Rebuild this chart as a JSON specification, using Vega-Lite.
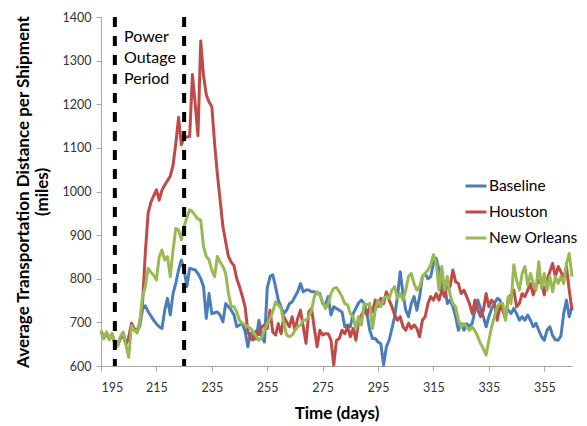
{
"$schema":"https://vega.github.io/schema/vega-lite/v6.json",
"width":471,"height":349,
"autosize":{"type":"none"},
"padding":{"left":101,"top":17,"right":15,"bottom":60},
"background":"white",
"config":{"view":{"stroke":null},"font":"Lato",
"axis":{"grid":false,"domainColor":"#a6a6a6","tickColor":"#a6a6a6","tickSize":5,"labelFontSize":12.5,"labelColor":"#333333","titleFontSize":17,"titleFontWeight":"bold","titleColor":"#000000","labelFont":"Lato","titleFont":"Lato"}},
"datasets":{"series":[
{"day":195,"series":"Baseline","value":678},{"day":196,"series":"Baseline","value":665},{"day":197,"series":"Baseline","value":672},{"day":198,"series":"Baseline","value":662},{"day":199,"series":"Baseline","value":670},{"day":200,"series":"Baseline","value":652},{"day":201,"series":"Baseline","value":648},{"day":202,"series":"Baseline","value":662},{"day":203,"series":"Baseline","value":672},{"day":204,"series":"Baseline","value":650},{"day":205,"series":"Baseline","value":662},{"day":206,"series":"Baseline","value":690},{"day":207,"series":"Baseline","value":682},{"day":208,"series":"Baseline","value":678},{"day":209,"series":"Baseline","value":692},{"day":210,"series":"Baseline","value":730},{"day":211,"series":"Baseline","value":738},{"day":212,"series":"Baseline","value":725},{"day":213,"series":"Baseline","value":715},{"day":214,"series":"Baseline","value":705},{"day":215,"series":"Baseline","value":697},{"day":216,"series":"Baseline","value":690},{"day":217,"series":"Baseline","value":686},{"day":218,"series":"Baseline","value":728},{"day":219,"series":"Baseline","value":755},{"day":220,"series":"Baseline","value":717},{"day":221,"series":"Baseline","value":766},{"day":222,"series":"Baseline","value":790},{"day":223,"series":"Baseline","value":820},{"day":224,"series":"Baseline","value":843},{"day":225,"series":"Baseline","value":820},{"day":226,"series":"Baseline","value":782},{"day":227,"series":"Baseline","value":824},{"day":228,"series":"Baseline","value":822},{"day":229,"series":"Baseline","value":820},{"day":230,"series":"Baseline","value":812},{"day":231,"series":"Baseline","value":800},{"day":232,"series":"Baseline","value":782},{"day":233,"series":"Baseline","value":709},{"day":234,"series":"Baseline","value":766},{"day":235,"series":"Baseline","value":720},{"day":236,"series":"Baseline","value":722},{"day":237,"series":"Baseline","value":724},{"day":238,"series":"Baseline","value":717},{"day":239,"series":"Baseline","value":701},{"day":240,"series":"Baseline","value":743},{"day":241,"series":"Baseline","value":736},{"day":242,"series":"Baseline","value":728},{"day":243,"series":"Baseline","value":717},{"day":244,"series":"Baseline","value":690},{"day":245,"series":"Baseline","value":694},{"day":246,"series":"Baseline","value":697},{"day":247,"series":"Baseline","value":680},{"day":248,"series":"Baseline","value":644},{"day":249,"series":"Baseline","value":675},{"day":250,"series":"Baseline","value":665},{"day":251,"series":"Baseline","value":662},{"day":252,"series":"Baseline","value":705},{"day":253,"series":"Baseline","value":667},{"day":254,"series":"Baseline","value":655},{"day":255,"series":"Baseline","value":778},{"day":256,"series":"Baseline","value":805},{"day":257,"series":"Baseline","value":809},{"day":258,"series":"Baseline","value":782},{"day":259,"series":"Baseline","value":751},{"day":260,"series":"Baseline","value":735},{"day":261,"series":"Baseline","value":720},{"day":262,"series":"Baseline","value":728},{"day":263,"series":"Baseline","value":743},{"day":264,"series":"Baseline","value":747},{"day":265,"series":"Baseline","value":759},{"day":266,"series":"Baseline","value":770},{"day":267,"series":"Baseline","value":789},{"day":268,"series":"Baseline","value":770},{"day":269,"series":"Baseline","value":774},{"day":270,"series":"Baseline","value":774},{"day":271,"series":"Baseline","value":770},{"day":272,"series":"Baseline","value":770},{"day":273,"series":"Baseline","value":766},{"day":274,"series":"Baseline","value":766},{"day":275,"series":"Baseline","value":743},{"day":276,"series":"Baseline","value":740},{"day":277,"series":"Baseline","value":759},{"day":278,"series":"Baseline","value":717},{"day":279,"series":"Baseline","value":736},{"day":280,"series":"Baseline","value":732},{"day":281,"series":"Baseline","value":728},{"day":282,"series":"Baseline","value":724},{"day":283,"series":"Baseline","value":690},{"day":284,"series":"Baseline","value":694},{"day":285,"series":"Baseline","value":690},{"day":286,"series":"Baseline","value":720},{"day":287,"series":"Baseline","value":732},{"day":288,"series":"Baseline","value":745},{"day":289,"series":"Baseline","value":751},{"day":290,"series":"Baseline","value":743},{"day":291,"series":"Baseline","value":720},{"day":292,"series":"Baseline","value":682},{"day":293,"series":"Baseline","value":663},{"day":294,"series":"Baseline","value":663},{"day":295,"series":"Baseline","value":655},{"day":296,"series":"Baseline","value":651},{"day":297,"series":"Baseline","value":602},{"day":298,"series":"Baseline","value":644},{"day":299,"series":"Baseline","value":659},{"day":300,"series":"Baseline","value":686},{"day":301,"series":"Baseline","value":713},{"day":302,"series":"Baseline","value":760},{"day":303,"series":"Baseline","value":816},{"day":304,"series":"Baseline","value":766},{"day":305,"series":"Baseline","value":728},{"day":306,"series":"Baseline","value":713},{"day":307,"series":"Baseline","value":743},{"day":308,"series":"Baseline","value":759},{"day":309,"series":"Baseline","value":728},{"day":310,"series":"Baseline","value":759},{"day":311,"series":"Baseline","value":805},{"day":312,"series":"Baseline","value":812},{"day":313,"series":"Baseline","value":800},{"day":314,"series":"Baseline","value":805},{"day":315,"series":"Baseline","value":835},{"day":316,"series":"Baseline","value":847},{"day":317,"series":"Baseline","value":820},{"day":318,"series":"Baseline","value":774},{"day":319,"series":"Baseline","value":789},{"day":320,"series":"Baseline","value":743},{"day":321,"series":"Baseline","value":751},{"day":322,"series":"Baseline","value":736},{"day":323,"series":"Baseline","value":713},{"day":324,"series":"Baseline","value":682},{"day":325,"series":"Baseline","value":697},{"day":326,"series":"Baseline","value":682},{"day":327,"series":"Baseline","value":697},{"day":328,"series":"Baseline","value":690},{"day":329,"series":"Baseline","value":698},{"day":330,"series":"Baseline","value":728},{"day":331,"series":"Baseline","value":751},{"day":332,"series":"Baseline","value":732},{"day":333,"series":"Baseline","value":713},{"day":334,"series":"Baseline","value":690},{"day":335,"series":"Baseline","value":713},{"day":336,"series":"Baseline","value":732},{"day":337,"series":"Baseline","value":743},{"day":338,"series":"Baseline","value":755},{"day":339,"series":"Baseline","value":751},{"day":340,"series":"Baseline","value":728},{"day":341,"series":"Baseline","value":720},{"day":342,"series":"Baseline","value":728},{"day":343,"series":"Baseline","value":720},{"day":344,"series":"Baseline","value":732},{"day":345,"series":"Baseline","value":720},{"day":346,"series":"Baseline","value":705},{"day":347,"series":"Baseline","value":713},{"day":348,"series":"Baseline","value":705},{"day":349,"series":"Baseline","value":717},{"day":350,"series":"Baseline","value":705},{"day":351,"series":"Baseline","value":690},{"day":352,"series":"Baseline","value":698},{"day":353,"series":"Baseline","value":682},{"day":354,"series":"Baseline","value":667},{"day":355,"series":"Baseline","value":659},{"day":356,"series":"Baseline","value":682},{"day":357,"series":"Baseline","value":690},{"day":358,"series":"Baseline","value":670},{"day":359,"series":"Baseline","value":660},{"day":360,"series":"Baseline","value":659},{"day":361,"series":"Baseline","value":669},{"day":362,"series":"Baseline","value":720},{"day":363,"series":"Baseline","value":751},{"day":364,"series":"Baseline","value":713},{"day":365,"series":"Baseline","value":736},
{"day":195,"series":"Houston","value":680},{"day":196,"series":"Houston","value":668},{"day":197,"series":"Houston","value":675},{"day":198,"series":"Houston","value":665},{"day":199,"series":"Houston","value":672},{"day":200,"series":"Houston","value":655},{"day":201,"series":"Houston","value":650},{"day":202,"series":"Houston","value":665},{"day":203,"series":"Houston","value":675},{"day":204,"series":"Houston","value":652},{"day":205,"series":"Houston","value":665},{"day":206,"series":"Houston","value":698},{"day":207,"series":"Houston","value":686},{"day":208,"series":"Houston","value":680},{"day":209,"series":"Houston","value":700},{"day":210,"series":"Houston","value":745},{"day":211,"series":"Houston","value":860},{"day":212,"series":"Houston","value":950},{"day":213,"series":"Houston","value":975},{"day":214,"series":"Houston","value":990},{"day":215,"series":"Houston","value":1004},{"day":216,"series":"Houston","value":980},{"day":217,"series":"Houston","value":1003},{"day":218,"series":"Houston","value":1015},{"day":219,"series":"Houston","value":1025},{"day":220,"series":"Houston","value":1035},{"day":221,"series":"Houston","value":1060},{"day":222,"series":"Houston","value":1110},{"day":223,"series":"Houston","value":1170},{"day":224,"series":"Houston","value":1107},{"day":225,"series":"Houston","value":1123},{"day":226,"series":"Houston","value":1125},{"day":227,"series":"Houston","value":1126},{"day":228,"series":"Houston","value":1268},{"day":229,"series":"Houston","value":1200},{"day":230,"series":"Houston","value":1128},{"day":231,"series":"Houston","value":1345},{"day":232,"series":"Houston","value":1265},{"day":233,"series":"Houston","value":1222},{"day":234,"series":"Houston","value":1205},{"day":235,"series":"Houston","value":1195},{"day":236,"series":"Houston","value":1110},{"day":237,"series":"Houston","value":1040},{"day":238,"series":"Houston","value":980},{"day":239,"series":"Houston","value":920},{"day":240,"series":"Houston","value":885},{"day":241,"series":"Houston","value":851},{"day":242,"series":"Houston","value":838},{"day":243,"series":"Houston","value":830},{"day":244,"series":"Houston","value":800},{"day":245,"series":"Houston","value":782},{"day":246,"series":"Houston","value":760},{"day":247,"series":"Houston","value":736},{"day":248,"series":"Houston","value":680},{"day":249,"series":"Houston","value":662},{"day":250,"series":"Houston","value":660},{"day":251,"series":"Houston","value":680},{"day":252,"series":"Houston","value":672},{"day":253,"series":"Houston","value":690},{"day":254,"series":"Houston","value":694},{"day":255,"series":"Houston","value":686},{"day":256,"series":"Houston","value":728},{"day":257,"series":"Houston","value":678},{"day":258,"series":"Houston","value":671},{"day":259,"series":"Houston","value":697},{"day":260,"series":"Houston","value":674},{"day":261,"series":"Houston","value":713},{"day":262,"series":"Houston","value":701},{"day":263,"series":"Houston","value":690},{"day":264,"series":"Houston","value":713},{"day":265,"series":"Houston","value":682},{"day":266,"series":"Houston","value":709},{"day":267,"series":"Houston","value":728},{"day":268,"series":"Houston","value":690},{"day":269,"series":"Houston","value":652},{"day":270,"series":"Houston","value":724},{"day":271,"series":"Houston","value":732},{"day":272,"series":"Houston","value":686},{"day":273,"series":"Houston","value":644},{"day":274,"series":"Houston","value":682},{"day":275,"series":"Houston","value":671},{"day":276,"series":"Houston","value":674},{"day":277,"series":"Houston","value":674},{"day":278,"series":"Houston","value":660},{"day":279,"series":"Houston","value":602},{"day":280,"series":"Houston","value":659},{"day":281,"series":"Houston","value":663},{"day":282,"series":"Houston","value":682},{"day":283,"series":"Houston","value":674},{"day":284,"series":"Houston","value":690},{"day":285,"series":"Houston","value":667},{"day":286,"series":"Houston","value":686},{"day":287,"series":"Houston","value":659},{"day":288,"series":"Houston","value":705},{"day":289,"series":"Houston","value":717},{"day":290,"series":"Houston","value":728},{"day":291,"series":"Houston","value":717},{"day":292,"series":"Houston","value":736},{"day":293,"series":"Houston","value":724},{"day":294,"series":"Houston","value":751},{"day":295,"series":"Houston","value":736},{"day":296,"series":"Houston","value":755},{"day":297,"series":"Houston","value":743},{"day":298,"series":"Houston","value":770},{"day":299,"series":"Houston","value":751},{"day":300,"series":"Houston","value":736},{"day":301,"series":"Houston","value":717},{"day":302,"series":"Houston","value":705},{"day":303,"series":"Houston","value":713},{"day":304,"series":"Houston","value":690},{"day":305,"series":"Houston","value":682},{"day":306,"series":"Houston","value":698},{"day":307,"series":"Houston","value":686},{"day":308,"series":"Houston","value":694},{"day":309,"series":"Houston","value":686},{"day":310,"series":"Houston","value":667},{"day":311,"series":"Houston","value":705},{"day":312,"series":"Houston","value":713},{"day":313,"series":"Houston","value":743},{"day":314,"series":"Houston","value":759},{"day":315,"series":"Houston","value":751},{"day":316,"series":"Houston","value":766},{"day":317,"series":"Houston","value":751},{"day":318,"series":"Houston","value":774},{"day":319,"series":"Houston","value":759},{"day":320,"series":"Houston","value":789},{"day":321,"series":"Houston","value":782},{"day":322,"series":"Houston","value":820},{"day":323,"series":"Houston","value":793},{"day":324,"series":"Houston","value":789},{"day":325,"series":"Houston","value":766},{"day":326,"series":"Houston","value":774},{"day":327,"series":"Houston","value":759},{"day":328,"series":"Houston","value":743},{"day":329,"series":"Houston","value":720},{"day":330,"series":"Houston","value":751},{"day":331,"series":"Houston","value":728},{"day":332,"series":"Houston","value":713},{"day":333,"series":"Houston","value":728},{"day":334,"series":"Houston","value":766},{"day":335,"series":"Houston","value":736},{"day":336,"series":"Houston","value":751},{"day":337,"series":"Houston","value":743},{"day":338,"series":"Houston","value":705},{"day":339,"series":"Houston","value":736},{"day":340,"series":"Houston","value":728},{"day":341,"series":"Houston","value":709},{"day":342,"series":"Houston","value":755},{"day":343,"series":"Houston","value":763},{"day":344,"series":"Houston","value":774},{"day":345,"series":"Houston","value":736},{"day":346,"series":"Houston","value":743},{"day":347,"series":"Houston","value":766},{"day":348,"series":"Houston","value":759},{"day":349,"series":"Houston","value":774},{"day":350,"series":"Houston","value":789},{"day":351,"series":"Houston","value":763},{"day":352,"series":"Houston","value":782},{"day":353,"series":"Houston","value":797},{"day":354,"series":"Houston","value":789},{"day":355,"series":"Houston","value":763},{"day":356,"series":"Houston","value":797},{"day":357,"series":"Houston","value":816},{"day":358,"series":"Houston","value":835},{"day":359,"series":"Houston","value":805},{"day":360,"series":"Houston","value":828},{"day":361,"series":"Houston","value":816},{"day":362,"series":"Houston","value":800},{"day":363,"series":"Houston","value":828},{"day":364,"series":"Houston","value":774},{"day":365,"series":"Houston","value":728},
{"day":195,"series":"New Orleans","value":682},{"day":196,"series":"New Orleans","value":662},{"day":197,"series":"New Orleans","value":678},{"day":198,"series":"New Orleans","value":660},{"day":199,"series":"New Orleans","value":675},{"day":200,"series":"New Orleans","value":650},{"day":201,"series":"New Orleans","value":645},{"day":202,"series":"New Orleans","value":668},{"day":203,"series":"New Orleans","value":678},{"day":204,"series":"New Orleans","value":648},{"day":205,"series":"New Orleans","value":620},{"day":206,"series":"New Orleans","value":692},{"day":207,"series":"New Orleans","value":682},{"day":208,"series":"New Orleans","value":676},{"day":209,"series":"New Orleans","value":700},{"day":210,"series":"New Orleans","value":760},{"day":211,"series":"New Orleans","value":782},{"day":212,"series":"New Orleans","value":824},{"day":213,"series":"New Orleans","value":815},{"day":214,"series":"New Orleans","value":808},{"day":215,"series":"New Orleans","value":797},{"day":216,"series":"New Orleans","value":850},{"day":217,"series":"New Orleans","value":866},{"day":218,"series":"New Orleans","value":843},{"day":219,"series":"New Orleans","value":851},{"day":220,"series":"New Orleans","value":805},{"day":221,"series":"New Orleans","value":866},{"day":222,"series":"New Orleans","value":915},{"day":223,"series":"New Orleans","value":912},{"day":224,"series":"New Orleans","value":889},{"day":225,"series":"New Orleans","value":920},{"day":226,"series":"New Orleans","value":940},{"day":227,"series":"New Orleans","value":958},{"day":228,"series":"New Orleans","value":954},{"day":229,"series":"New Orleans","value":945},{"day":230,"series":"New Orleans","value":937},{"day":231,"series":"New Orleans","value":935},{"day":232,"series":"New Orleans","value":874},{"day":233,"series":"New Orleans","value":851},{"day":234,"series":"New Orleans","value":843},{"day":235,"series":"New Orleans","value":820},{"day":236,"series":"New Orleans","value":805},{"day":237,"series":"New Orleans","value":851},{"day":238,"series":"New Orleans","value":838},{"day":239,"series":"New Orleans","value":828},{"day":240,"series":"New Orleans","value":812},{"day":241,"series":"New Orleans","value":766},{"day":242,"series":"New Orleans","value":736},{"day":243,"series":"New Orleans","value":736},{"day":244,"series":"New Orleans","value":724},{"day":245,"series":"New Orleans","value":705},{"day":246,"series":"New Orleans","value":698},{"day":247,"series":"New Orleans","value":695},{"day":248,"series":"New Orleans","value":690},{"day":249,"series":"New Orleans","value":686},{"day":250,"series":"New Orleans","value":678},{"day":251,"series":"New Orleans","value":668},{"day":252,"series":"New Orleans","value":659},{"day":253,"series":"New Orleans","value":665},{"day":254,"series":"New Orleans","value":682},{"day":255,"series":"New Orleans","value":697},{"day":256,"series":"New Orleans","value":709},{"day":257,"series":"New Orleans","value":724},{"day":258,"series":"New Orleans","value":747},{"day":259,"series":"New Orleans","value":740},{"day":260,"series":"New Orleans","value":732},{"day":261,"series":"New Orleans","value":698},{"day":262,"series":"New Orleans","value":671},{"day":263,"series":"New Orleans","value":667},{"day":264,"series":"New Orleans","value":671},{"day":265,"series":"New Orleans","value":682},{"day":266,"series":"New Orleans","value":690},{"day":267,"series":"New Orleans","value":694},{"day":268,"series":"New Orleans","value":705},{"day":269,"series":"New Orleans","value":705},{"day":270,"series":"New Orleans","value":713},{"day":271,"series":"New Orleans","value":728},{"day":272,"series":"New Orleans","value":759},{"day":273,"series":"New Orleans","value":770},{"day":274,"series":"New Orleans","value":763},{"day":275,"series":"New Orleans","value":747},{"day":276,"series":"New Orleans","value":732},{"day":277,"series":"New Orleans","value":743},{"day":278,"series":"New Orleans","value":766},{"day":279,"series":"New Orleans","value":778},{"day":280,"series":"New Orleans","value":780},{"day":281,"series":"New Orleans","value":770},{"day":282,"series":"New Orleans","value":759},{"day":283,"series":"New Orleans","value":743},{"day":284,"series":"New Orleans","value":740},{"day":285,"series":"New Orleans","value":720},{"day":286,"series":"New Orleans","value":713},{"day":287,"series":"New Orleans","value":686},{"day":288,"series":"New Orleans","value":713},{"day":289,"series":"New Orleans","value":694},{"day":290,"series":"New Orleans","value":743},{"day":291,"series":"New Orleans","value":740},{"day":292,"series":"New Orleans","value":743},{"day":293,"series":"New Orleans","value":686},{"day":294,"series":"New Orleans","value":728},{"day":295,"series":"New Orleans","value":751},{"day":296,"series":"New Orleans","value":736},{"day":297,"series":"New Orleans","value":755},{"day":298,"series":"New Orleans","value":759},{"day":299,"series":"New Orleans","value":755},{"day":300,"series":"New Orleans","value":774},{"day":301,"series":"New Orleans","value":782},{"day":302,"series":"New Orleans","value":755},{"day":303,"series":"New Orleans","value":766},{"day":304,"series":"New Orleans","value":751},{"day":305,"series":"New Orleans","value":774},{"day":306,"series":"New Orleans","value":805},{"day":307,"series":"New Orleans","value":812},{"day":308,"series":"New Orleans","value":789},{"day":309,"series":"New Orleans","value":774},{"day":310,"series":"New Orleans","value":782},{"day":311,"series":"New Orleans","value":805},{"day":312,"series":"New Orleans","value":812},{"day":313,"series":"New Orleans","value":820},{"day":314,"series":"New Orleans","value":832},{"day":315,"series":"New Orleans","value":855},{"day":316,"series":"New Orleans","value":835},{"day":317,"series":"New Orleans","value":774},{"day":318,"series":"New Orleans","value":828},{"day":319,"series":"New Orleans","value":774},{"day":320,"series":"New Orleans","value":805},{"day":321,"series":"New Orleans","value":763},{"day":322,"series":"New Orleans","value":743},{"day":323,"series":"New Orleans","value":736},{"day":324,"series":"New Orleans","value":705},{"day":325,"series":"New Orleans","value":690},{"day":326,"series":"New Orleans","value":697},{"day":327,"series":"New Orleans","value":690},{"day":328,"series":"New Orleans","value":682},{"day":329,"series":"New Orleans","value":690},{"day":330,"series":"New Orleans","value":680},{"day":331,"series":"New Orleans","value":667},{"day":332,"series":"New Orleans","value":651},{"day":333,"series":"New Orleans","value":640},{"day":334,"series":"New Orleans","value":625},{"day":335,"series":"New Orleans","value":659},{"day":336,"series":"New Orleans","value":690},{"day":337,"series":"New Orleans","value":713},{"day":338,"series":"New Orleans","value":736},{"day":339,"series":"New Orleans","value":743},{"day":340,"series":"New Orleans","value":743},{"day":341,"series":"New Orleans","value":705},{"day":342,"series":"New Orleans","value":759},{"day":343,"series":"New Orleans","value":743},{"day":344,"series":"New Orleans","value":832},{"day":345,"series":"New Orleans","value":797},{"day":346,"series":"New Orleans","value":774},{"day":347,"series":"New Orleans","value":812},{"day":348,"series":"New Orleans","value":828},{"day":349,"series":"New Orleans","value":786},{"day":350,"series":"New Orleans","value":812},{"day":351,"series":"New Orleans","value":789},{"day":352,"series":"New Orleans","value":774},{"day":353,"series":"New Orleans","value":839},{"day":354,"series":"New Orleans","value":778},{"day":355,"series":"New Orleans","value":812},{"day":356,"series":"New Orleans","value":774},{"day":357,"series":"New Orleans","value":805},{"day":358,"series":"New Orleans","value":770},{"day":359,"series":"New Orleans","value":805},{"day":360,"series":"New Orleans","value":789},{"day":361,"series":"New Orleans","value":805},{"day":362,"series":"New Orleans","value":789},{"day":363,"series":"New Orleans","value":835},{"day":364,"series":"New Orleans","value":858},{"day":365,"series":"New Orleans","value":805}
]},
"layer":[
{"data":{"name":"series"},
"mark":{"type":"line","strokeWidth":3,"strokeJoin":"round"},
"encoding":{
"x":{"field":"day","type":"quantitative","scale":{"domain":[195,365],"nice":false,"zero":false},"axis":{"values":[195,215,235,255,275,295,315,335,355],"format":"d","title":"Time (days)","titlePadding":12,"labelPadding":10}},
"y":{"field":"value","type":"quantitative","scale":{"domain":[600,1400],"nice":false,"zero":false},"axis":{"values":[600,700,800,900,1000,1100,1200,1300,1400],"format":"d","title":["Average Transportation Distance per Shipment","(miles)"],"titleFontSize":17,"titleLineHeight":19,"titlePadding":11,"labelPadding":5}},
"color":{"field":"series","type":"nominal","scale":{"domain":["Baseline","Houston","New Orleans"],"range":["#4a7ebb","#be4b48","#98b954"]},
"legend":{"orient":"none","legendX":363,"legendY":157,"title":null,"labelFontSize":15.5,"labelColor":"#000000","labelFont":"Lato","symbolType":"stroke","symbolSize":440,"symbolStrokeWidth":3,"rowPadding":5,"labelOffset":1}}}},
{"data":{"values":[{"day":200},{"day":225}]},
"mark":{"type":"rule","strokeDash":[10,9],"strokeWidth":4,"color":"black"},
"encoding":{"x":{"field":"day","type":"quantitative"}}},
{"data":{"values":[{"day":203.3,"value":1373,"label":"Power\nOutage\nPeriod"}]},
"mark":{"type":"text","align":"left","baseline":"top","lineBreak":"\n","fontSize":16,"lineHeight":21,"font":"Lato","color":"#000000"},
"encoding":{"x":{"field":"day","type":"quantitative"},"y":{"field":"value","type":"quantitative"},"text":{"field":"label"}}}
]
}
